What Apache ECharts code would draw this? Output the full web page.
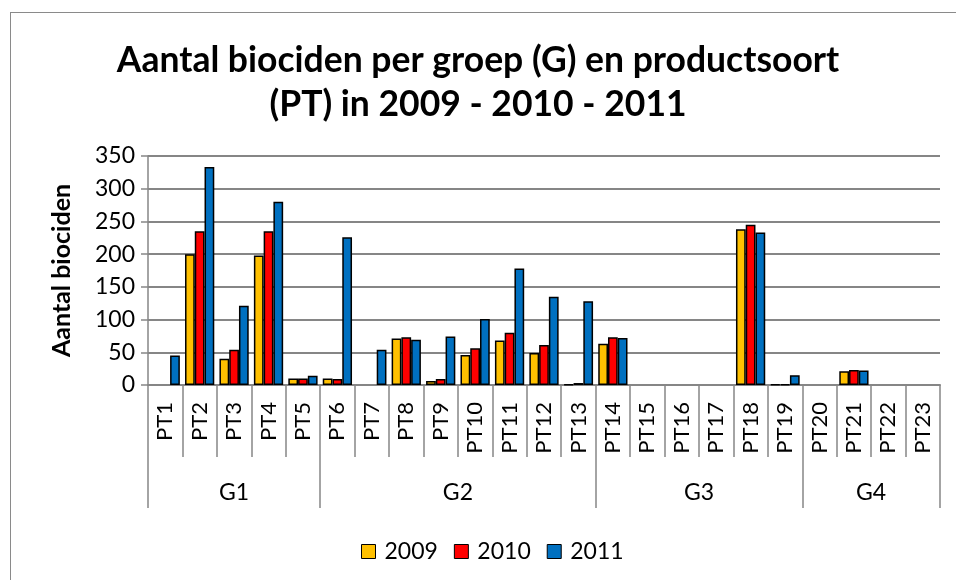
<!DOCTYPE html>
<html lang="nl">
<head>
    <meta charset="UTF-8">
    <title>Aantal biociden per groep en productsoort</title>
    <script src="https://cdn.jsdelivr.net/npm/echarts@6/dist/echarts.min.js"></script>
    <style>
        html, body { margin: 0; padding: 0; background: #fff; overflow: hidden; }
        #frame {
            position: absolute; left: 10px; top: 12px;
            width: 960px; height: 580px;
            border: 1px solid #8a8a8a;
        }
        #chart { position: absolute; left: 0; top: 0; width: 956px; height: 580px; }
    </style>
</head>
<body>
    <div id="frame"></div>
    <div id="chart"></div>
    <script>
        // categories (product types) and the group each one belongs to
        var productTypes = ['PT1', 'PT2', 'PT3', 'PT4', 'PT5', 'PT6', 'PT7', 'PT8', 'PT9', 'PT10', 'PT11', 'PT12',
            'PT13', 'PT14', 'PT15', 'PT16', 'PT17', 'PT18', 'PT19', 'PT20', 'PT21', 'PT22', 'PT23'];
        var groups = ['G1', 'G2', 'G3', 'G4'];
        var groupSizes = [5, 8, 6, 4];

        // values (null = no bar)
        var y2009 = [null, 200, 40, 198, 10, 10, null, 71, 6, 46, 68, 49, 1, 63, null, null, null, 238, 1, null, 21, null, null];
        var y2010 = [null, 235, 54, 235, 10, 9, null, 73, 9, 56, 80, 61, 3, 73, null, null, null, 245, 1, null, 23, null, null];
        var y2011 = [45, 333, 121, 280, 14, 226, 54, 69, 74, 101, 178, 135, 128, 72, null, null, null, 233, 15, null, 22, null, null];

        var years = ['2009', '2010', '2011'];
        var colors = ['#FFC000', '#FF0000', '#0070C0'];
        var yTicks = { min: 0, max: 350, step: 50 };

        // group boundaries and centres on a 0..23 value scale
        var bounds = [0];
        var centres = [];
        groupSizes.forEach(function (n) {
            var start = bounds[bounds.length - 1];
            centres.push(start + n / 2);
            bounds.push(start + n);
        });

        var font = 'Lato, "Noto Sans", sans-serif';
        var gray = '#868686';

        var chart = echarts.init(document.getElementById('chart'));

        var option = {
            animation: false,
            color: colors,
            title: {
                text: 'Aantal biociden per groep (G) en productsoort\n(PT) in 2009 - 2010 - 2011',
                left: 'center',
                top: 34,
                textStyle: {
                    fontFamily: font, fontWeight: 'bold', fontSize: 35.5, lineHeight: 44, color: '#000'
                }
            },
            legend: {
                data: years,
                left: 356,
                top: 535,
                icon: 'rect',
                itemWidth: 14,
                itemHeight: 14,
                itemGap: 16,
                textStyle: { fontFamily: font, fontSize: 23, color: '#000', padding: [0, 0, 0, 4] },
                itemStyle: { borderColor: '#000', borderWidth: 1 }
            },
            grid: { left: 148, right: 16, top: 156, bottom: 195, containLabel: false },
            xAxis: [{
                type: 'category',
                data: productTypes,
                axisLine: { lineStyle: { color: gray, width: 2 } },
                axisTick: { show: true, length: 72, lineStyle: { color: gray, width: 1.5 } },
                axisLabel: {
                    rotate: 90, margin: 17, fontFamily: font, fontSize: 22, color: '#000', interval: 0
                },
                splitLine: { show: false }
            }, {
                type: 'value',
                min: 0,
                max: productTypes.length,
                position: 'bottom',
                axisLine: { show: false },
                splitLine: { show: false },
                axisTick: {
                    show: true, length: 123, customValues: bounds,
                    lineStyle: { color: gray, width: 1.5 }
                },
                axisLabel: {
                    show: true, margin: 96, customValues: centres,
                    fontFamily: font, fontSize: 23, color: '#000',
                    formatter: function (v) { return groups[centres.indexOf(v)]; }
                }
            }],
            yAxis: {
                type: 'value',
                min: yTicks.min,
                max: yTicks.max,
                interval: yTicks.step,
                name: 'Aantal biociden',
                nameLocation: 'middle',
                nameGap: 74,
                nameTextStyle: { fontFamily: font, fontWeight: 'bold', fontSize: 25, color: '#000' },
                axisLine: { show: true, lineStyle: { color: gray, width: 1.5 } },
                axisTick: { show: true, length: 7, lineStyle: { color: gray, width: 1.5 } },
                axisLabel: { fontFamily: font, fontSize: 23, color: '#000', margin: 13 },
                splitLine: { lineStyle: { color: gray, width: 2 } }
            },
            series: [y2009, y2010, y2011].map(function (vals, i) {
                return {
                    name: years[i],
                    type: 'bar',
                    xAxisIndex: 0,
                    data: vals,
                    barGap: '0%',
                    barCategoryGap: '15%',
                    itemStyle: { color: colors[i], borderColor: '#000', borderWidth: 1.5 }
                };
            })
        };

        chart.setOption(option);
    </script>
</body>
</html>
